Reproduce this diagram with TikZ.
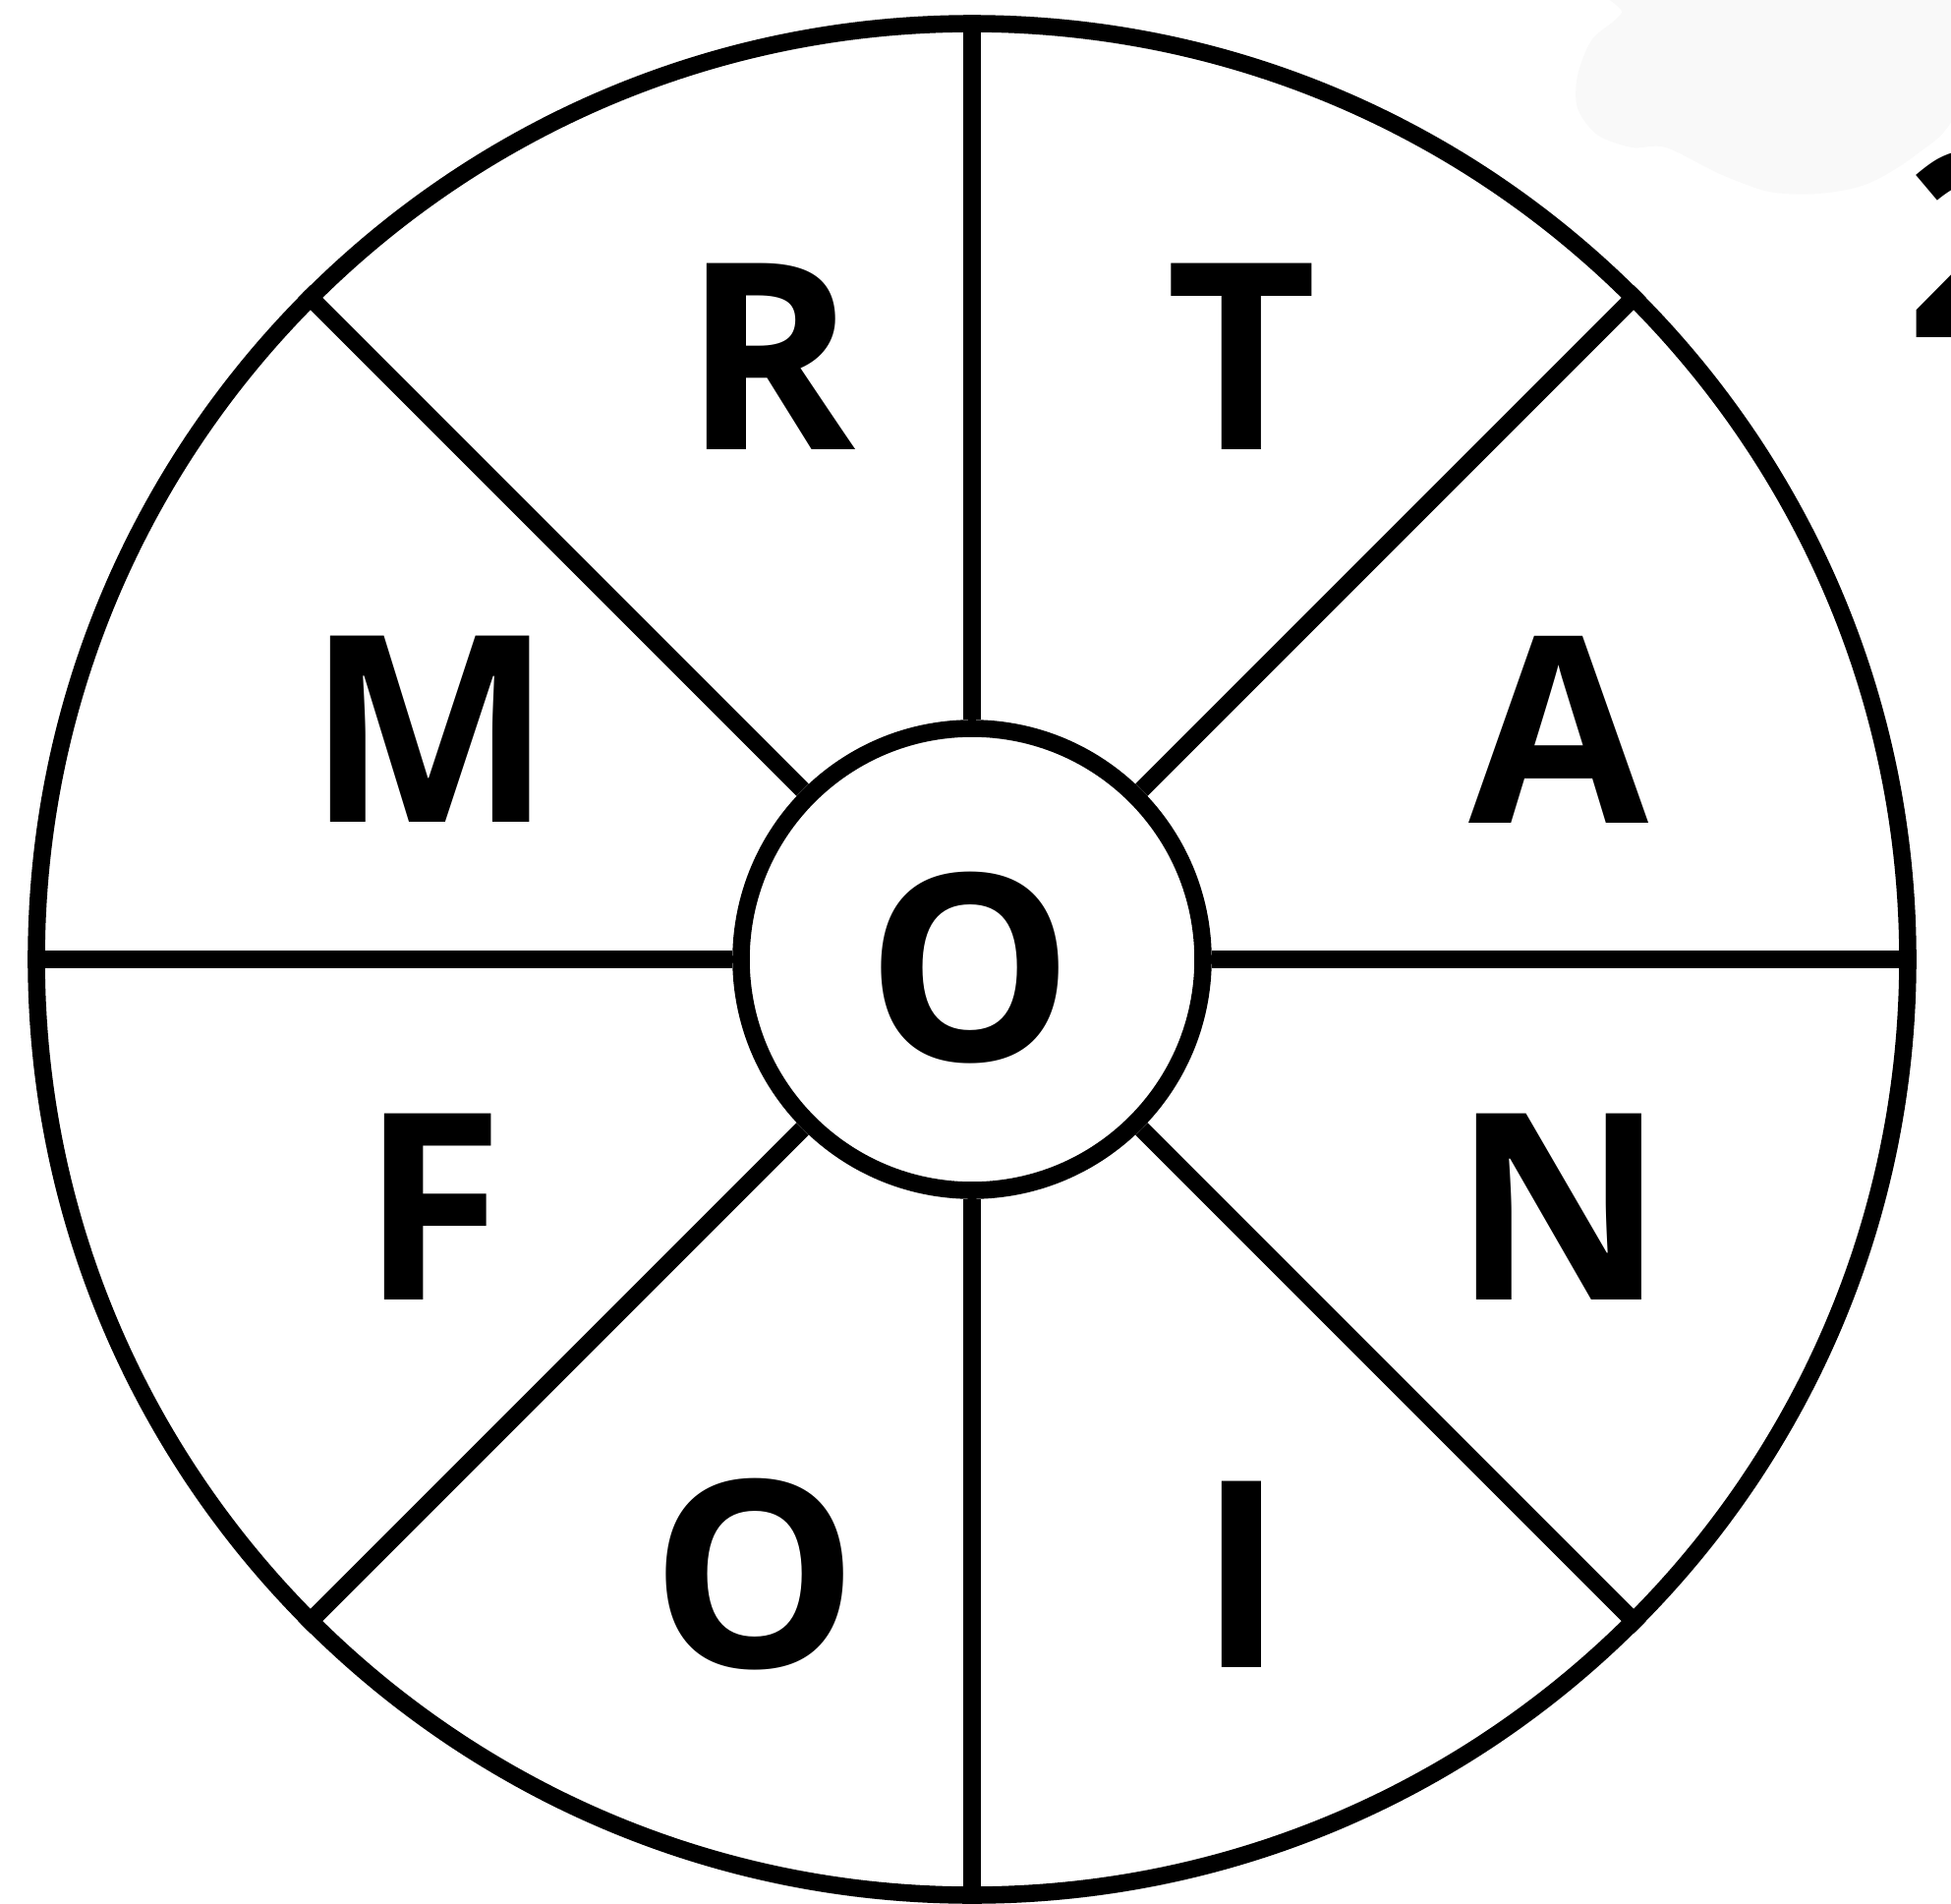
\documentclass[tikz,border=0pt]{standalone}
\usepackage{fontspec}
\setmainfont{Open Sans}
\tikzset{
  ring/.style={draw, circle, line width=5pt, inner sep=0pt},
  letter/.style={font=\bfseries\fontsize{75.5}{80}\selectfont, inner sep=0pt}
}

\begin{document}
\begin{tikzpicture}
  \clip (0,0) rectangle (19.85,-19.37);
  \fill[white] (0,0) rectangle (19.85,-19.37);
  % faint smudge top right
  \fill[black!2.5] plot[smooth cycle, tension=0.5] coordinates {(16.5,0.2) (16.5,-0.13) (16.2,-0.4) (16.05,-0.77) (16.05,-1.1) (16.25,-1.37) (16.6,-1.5) (16.95,-1.5) (17.5,-1.77) (18.0,-1.95) (18.5,-1.97) (19.0,-1.87) (19.5,-1.57) (19.9,-1.15) (20.3,0.2)};
  \node[ring, minimum size=19.04cm] (rim) at (9.89,-9.76) {};
  \node[ring, minimum size=4.70cm] (hub) at (9.89,-9.76) {};
  \foreach \a in {0,45,...,315}
    \draw[line width=5pt] (hub.\a) -- (rim.\a);
  \node[letter] (mid) at (9.87,-9.85) {O};
  \node[letter] (r) at (7.83,-3.63) {R};
  \node[letter] (t) at (12.63,-3.63) {T};
  \node[letter] (m) at (4.38,-7.42) {M};
  \node[letter] (a) at (15.86,-7.42) {A};
  \node[letter] (f) at (4.40,-12.28) {F};
  \node[letter] (n) at (15.86,-12.28) {N};
  \node[letter] (o) at (7.685,-16.02) {O};
  \node[letter] (i) at (12.63,-16.02) {I};
  \node[letter, anchor=base west] (two) at (19.39,-3.43) {2};
\end{tikzpicture}
\end{document}
